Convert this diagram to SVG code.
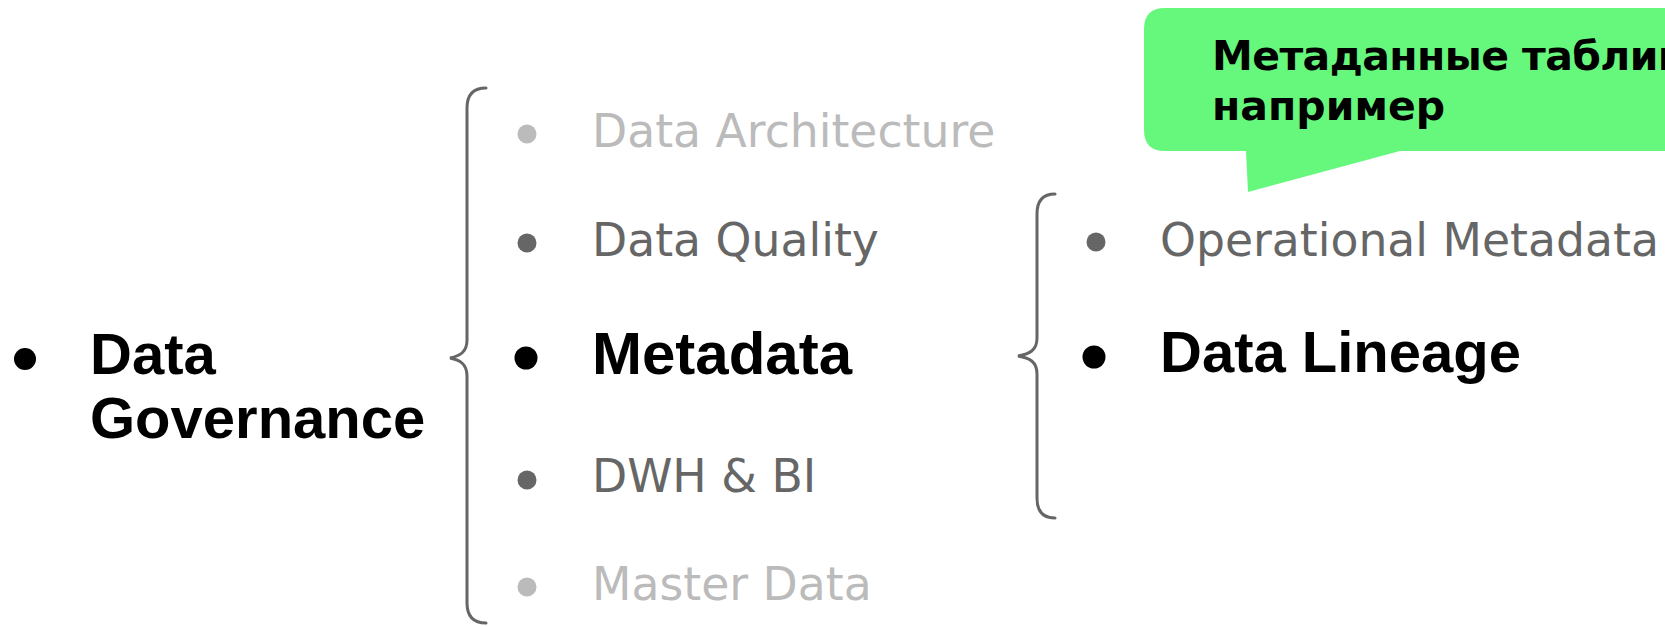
<svg xmlns="http://www.w3.org/2000/svg" width="1665" height="627" viewBox="0 0 1665 627">
  <style>
    .bold { font-family: "Liberation Sans", Arial, sans-serif; font-weight: 700; font-size: 58px; fill: #000; }
    .reg { font-family: "DejaVu Sans", sans-serif; font-size: 45.7px; }
    .dark { fill: #666666; }
    .light { fill: #bbbbbb; }
    .brace { fill: none; stroke: #666666; stroke-width: 3; stroke-linecap: round; }
    .note { font-family: "DejaVu Sans", sans-serif; font-weight: 700; font-size: 41px; fill: #000; }
  </style>
  <rect width="1665" height="627" fill="#ffffff"/>

  <!-- braces joining each level to its children -->
  <g id="connectors">
    <path class="brace" d="M486,88 C473,88 467,95 467,108 L467,340 C467,352 460,356 450,358 C460,360 467,364 467,376 L467,603 C467,616 473,623 486,623"/>
    <path class="brace" d="M1055,194 C1043,194 1037,201 1037,214 L1037,338 C1037,350 1030,354 1018,356 C1030,358 1037,362 1037,374 L1037,498 C1037,511 1043,518 1055,518"/>
  </g>

  <g id="data-governance">
    <circle cx="25" cy="359" r="11" fill="#000"/>
    <text class="bold" x="90" y="374">Data</text>
    <text class="bold" x="90" y="438">Governance</text>
  </g>

  <g id="data-architecture">
    <circle cx="527" cy="134" r="9.5" fill="#bbbbbb"/>
    <text class="reg light" x="592" y="147">Data Architecture</text>
  </g>

  <g id="data-quality">
    <circle cx="527" cy="243" r="9.5" fill="#666666"/>
    <text class="reg dark" x="592" y="256">Data Quality</text>
  </g>

  <g id="metadata">
    <circle cx="526" cy="358" r="11.5" fill="#000"/>
    <text class="bold" x="592" y="374" style="font-size:60px">Metadata</text>
  </g>

  <g id="dwh-bi">
    <circle cx="527" cy="480" r="9.5" fill="#666666"/>
    <text class="reg dark" x="592" y="492">DWH &amp; BI</text>
  </g>

  <g id="master-data">
    <circle cx="527" cy="587" r="9.5" fill="#bbbbbb"/>
    <text class="reg light" x="592" y="600">Master Data</text>
  </g>

  <g id="operational-metadata">
    <circle cx="1096" cy="242" r="9.5" fill="#666666"/>
    <text class="reg dark" x="1160" y="256">Operational Metadata</text>
  </g>

  <g id="data-lineage">
    <circle cx="1094" cy="357" r="11.5" fill="#000"/>
    <text class="bold" x="1160" y="372">Data Lineage</text>
  </g>

  <!-- speech bubble note; its first line runs past the right edge -->
  <g id="note">
    <path d="M1165,8 H1700 V151 H1400 L1248,192 L1246,151 H1165 Q1144,151 1144,130 V29 Q1144,8 1165,8 Z" fill="#66f87c"/>
    <text class="note" x="1212" y="70" letter-spacing="-0.6">Метаданные таблиц</text>
    <text class="note" x="1212" y="120">например</text>
  </g>
</svg>
